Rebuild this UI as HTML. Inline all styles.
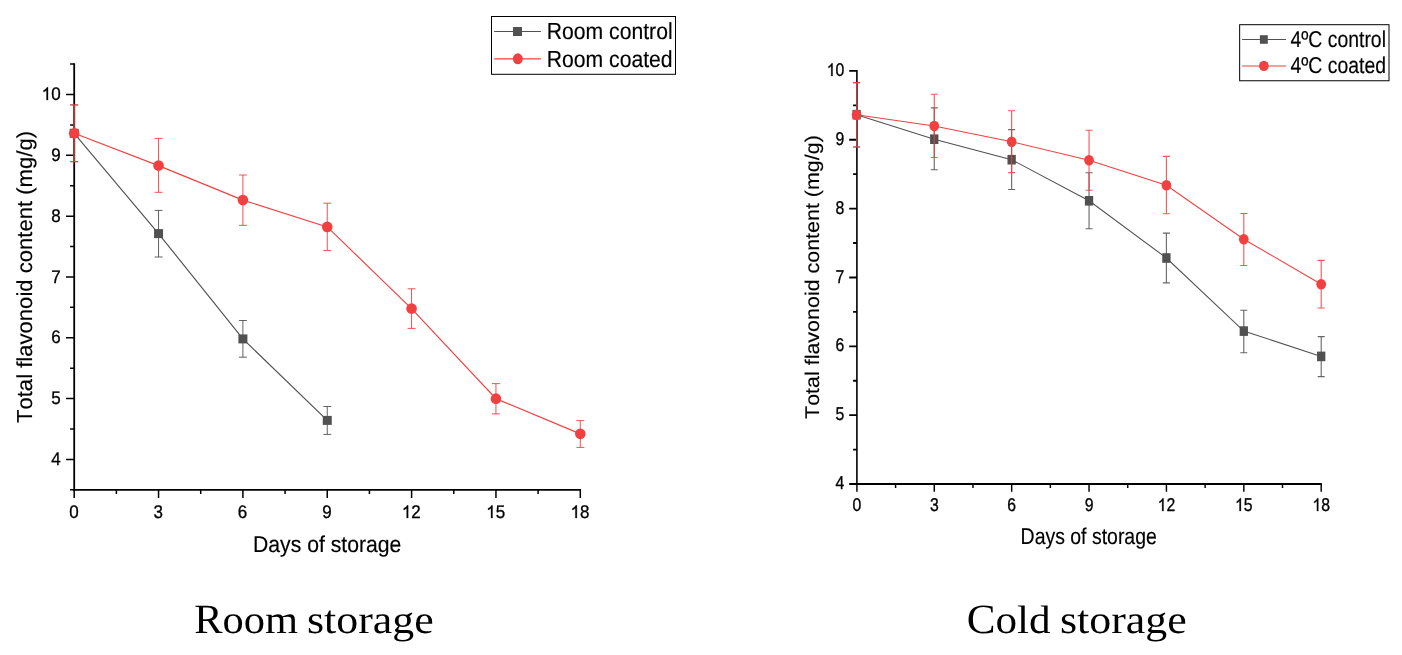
<!DOCTYPE html>
<html><head><meta charset="utf-8"><title>Total flavonoid content</title>
<style>html,body{margin:0;padding:0;background:#fff}svg{display:block;font-family:"Liberation Sans",sans-serif;will-change:transform;text-rendering:geometricPrecision;font-kerning:none}</style></head><body>
<svg width="1402" height="655" viewBox="0 0 1402 655">
<rect width="1402" height="655" fill="#fff"/>
<path d="M74.2 63.25V490.73" stroke="#000" stroke-width="1.8" fill="none"/>
<path d="M73.3 489.8H581.05" stroke="#000" stroke-width="1.85" fill="none"/>
<path d="M74.2 489.83H70.1M74.2 459.42H66M74.2 429.01H70.1M74.2 398.6H66M74.2 368.19H70.1M74.2 337.78H66M74.2 307.37H70.1M74.2 276.96H66M74.2 246.55H70.1M74.2 216.14H66M74.2 185.73H70.1M74.2 155.32H66M74.2 124.91H70.1M74.2 94.5H66M74.2 64.09H70.1" stroke="#000" stroke-width="1.5" fill="none"/>
<path d="M74.2 489.8V498M116.38 489.8V493.9M158.55 489.8V498M200.72 489.8V493.9M242.9 489.8V498M285.07 489.8V493.9M327.25 489.8V498M369.42 489.8V493.9M411.6 489.8V498M453.77 489.8V493.9M495.95 489.8V498M538.12 489.8V493.9M580.3 489.8V498" stroke="#000" stroke-width="1.5" fill="none"/>
<path d="M74.2 133.3 L158.55 233.6 L242.9 338.9 L327.25 420.4" fill="none" stroke="#515151" stroke-width="1.15"/>
<path d="M70.25 104.9H78.15M70.25 161.7H78.15M158.55 210.4V257M154.6 210.4H162.5M154.6 257H162.5M242.9 320.5V357.2M238.95 320.5H246.85M238.95 357.2H246.85M327.25 406.5V434.4M323.3 406.5H331.2M323.3 434.4H331.2" fill="none" stroke="#515151" stroke-width="1.0" opacity="0.9"/>
<rect x="69.7" y="128.8" width="9" height="9" fill="#515151"/>
<rect x="154.05" y="229.1" width="9" height="9" fill="#515151"/>
<rect x="238.4" y="334.4" width="9" height="9" fill="#515151"/>
<rect x="322.75" y="415.9" width="9" height="9" fill="#515151"/>
<path d="M74.2 133.3 L158.55 165.6 L242.9 200.1 L327.25 226.9 L411.55 308.6 L495.95 398.65 L580.3 433.85" fill="none" stroke="#F14040" stroke-width="1.15"/>
<path d="M74.2 104.9V161.7" fill="none" stroke="#B0393B" stroke-width="1.85"/>
<path d="M70.25 104.9H78.15M70.25 161.7H78.15M158.55 138.4V192.3M154.6 138.4H162.5M154.6 192.3H162.5M242.9 175V225.35M238.95 175H246.85M238.95 225.35H246.85M327.25 203.2V250.6M323.3 203.2H331.2M323.3 250.6H331.2M411.55 288.8V328.4M407.6 288.8H415.5M407.6 328.4H415.5M495.95 383.6V413.9M492 383.6H499.9M492 413.9H499.9M580.3 420.65V447.4M576.35 420.65H584.25M576.35 447.4H584.25" fill="none" stroke="#F14040" stroke-width="1.0" opacity="0.9"/>
<ellipse cx="74.2" cy="133.3" rx="5.3" ry="5.3" fill="#F14040"/>
<ellipse cx="158.55" cy="165.6" rx="5.3" ry="5.3" fill="#F14040"/>
<ellipse cx="242.9" cy="200.1" rx="5.3" ry="5.3" fill="#F14040"/>
<ellipse cx="327.25" cy="226.9" rx="5.3" ry="5.3" fill="#F14040"/>
<ellipse cx="411.55" cy="308.6" rx="5.3" ry="5.3" fill="#F14040"/>
<ellipse cx="495.95" cy="398.65" rx="5.3" ry="5.3" fill="#F14040"/>
<ellipse cx="580.3" cy="433.85" rx="5.3" ry="5.3" fill="#F14040"/>
<text transform="translate(60.6 465.07) scale(1.0000 1.0800)" font-size="17" text-anchor="end" stroke="#000" stroke-width="0.3" fill="#000">4</text>
<text transform="translate(60.6 404.25) scale(1.0000 1.0800)" font-size="17" text-anchor="end" stroke="#000" stroke-width="0.3" fill="#000">5</text>
<text transform="translate(60.6 343.43) scale(1.0000 1.0800)" font-size="17" text-anchor="end" stroke="#000" stroke-width="0.3" fill="#000">6</text>
<text transform="translate(60.6 282.61) scale(1.0000 1.0800)" font-size="17" text-anchor="end" stroke="#000" stroke-width="0.3" fill="#000">7</text>
<text transform="translate(60.6 221.79) scale(1.0000 1.0800)" font-size="17" text-anchor="end" stroke="#000" stroke-width="0.3" fill="#000">8</text>
<text transform="translate(60.6 160.97) scale(1.0000 1.0800)" font-size="17" text-anchor="end" stroke="#000" stroke-width="0.3" fill="#000">9</text>
<path transform="translate(41.69 100) scale(0.00830 -0.00858)" d="M763 0H583V1147Q518 1085 412.5 1023Q307 961 223 930V1104Q374 1175 487 1276Q600 1377 647 1472H763Z" fill="#000" stroke="#000" stroke-width="0.3" vector-effect="non-scaling-stroke"/>
<text transform="translate(51.14 100.15) scale(1.0000 1.0800)" font-size="17" text-anchor="start" stroke="#000" stroke-width="0.3" fill="#000">0</text>
<text transform="translate(73.9 518) scale(1.0000 1.0800)" font-size="17" text-anchor="middle" stroke="#000" stroke-width="0.3" fill="#000">0</text>
<text transform="translate(158.25 518) scale(1.0000 1.0800)" font-size="17" text-anchor="middle" stroke="#000" stroke-width="0.3" fill="#000">3</text>
<text transform="translate(242.6 518) scale(1.0000 1.0800)" font-size="17" text-anchor="middle" stroke="#000" stroke-width="0.3" fill="#000">6</text>
<text transform="translate(326.95 518) scale(1.0000 1.0800)" font-size="17" text-anchor="middle" stroke="#000" stroke-width="0.3" fill="#000">9</text>
<path transform="translate(401.84 518) scale(0.00830 -0.00858)" d="M763 0H583V1147Q518 1085 412.5 1023Q307 961 223 930V1104Q374 1175 487 1276Q600 1377 647 1472H763Z" fill="#000" stroke="#000" stroke-width="0.3" vector-effect="non-scaling-stroke"/>
<text transform="translate(411.3 518) scale(1.0000 1.0800)" font-size="17" text-anchor="start" stroke="#000" stroke-width="0.3" fill="#000">2</text>
<path transform="translate(486.19 518) scale(0.00830 -0.00858)" d="M763 0H583V1147Q518 1085 412.5 1023Q307 961 223 930V1104Q374 1175 487 1276Q600 1377 647 1472H763Z" fill="#000" stroke="#000" stroke-width="0.3" vector-effect="non-scaling-stroke"/>
<text transform="translate(495.65 518) scale(1.0000 1.0800)" font-size="17" text-anchor="start" stroke="#000" stroke-width="0.3" fill="#000">5</text>
<path transform="translate(570.54 518) scale(0.00830 -0.00858)" d="M763 0H583V1147Q518 1085 412.5 1023Q307 961 223 930V1104Q374 1175 487 1276Q600 1377 647 1472H763Z" fill="#000" stroke="#000" stroke-width="0.3" vector-effect="non-scaling-stroke"/>
<text transform="translate(580 518) scale(1.0000 1.0800)" font-size="17" text-anchor="start" stroke="#000" stroke-width="0.3" fill="#000">8</text>
<text transform="translate(327.2 552) scale(1.0000 1.0800)" font-size="21.18" text-anchor="middle" stroke="#000" stroke-width="0.15" fill="#000">Days of storage</text>
<text transform="translate(32.4 277) rotate(-90) scale(1.0000 0.9800)" font-size="22.09" text-anchor="middle" stroke="#000" stroke-width="0.15" fill="#000">Total flavonoid content (mg/g)</text>
<rect x="491.5" y="16.5" width="184" height="57.8" fill="#fff" stroke="#000" stroke-width="1.0"/>
<path d="M494.2 31.5H540.9" stroke="#515151" stroke-width="1.15"/>
<rect x="513" y="27" width="9" height="9" fill="#515151"/>
<text transform="translate(546.8 39) scale(1.0000 1.0980)" font-size="21.17" text-anchor="start" stroke="#000" stroke-width="0.15" fill="#000">Room control</text>
<path d="M494.2 58.85H540.9" stroke="#F14040" stroke-width="1.15"/>
<ellipse cx="517.85" cy="58.85" rx="4.95" ry="5.5" fill="#F14040"/>
<text transform="translate(546.8 67) scale(1.0000 1.0980)" font-size="21.17" text-anchor="start" stroke="#000" stroke-width="0.15" fill="#000">Room coated</text>
<path d="M856.9 69.98V484.95" stroke="#000" stroke-width="1.6" fill="none"/>
<path d="M856.1 484H1321.92" stroke="#000" stroke-width="1.9" fill="none"/>
<path d="M856.9 484H849.2M856.9 449.57H853.1M856.9 415.15H849.2M856.9 380.73H853.1M856.9 346.3H849.2M856.9 311.88H853.1M856.9 277.45H849.2M856.9 243.03H853.1M856.9 208.6H849.2M856.9 174.18H853.1M856.9 139.75H849.2M856.9 105.33H853.1M856.9 70.9H849.2" stroke="#000" stroke-width="1.85" fill="none"/>
<path d="M856.9 484V491.8M895.59 484V488M934.28 484V491.8M972.98 484V488M1011.67 484V491.8M1050.36 484V488M1089.05 484V491.8M1127.74 484V488M1166.43 484V491.8M1205.12 484V488M1243.82 484V491.8M1282.51 484V488M1321.2 484V491.8" stroke="#000" stroke-width="1.45" fill="none"/>
<path d="M856.6 114.7 L934.25 139.2 L1011.65 159.7 L1089.05 200.8 L1166.4 258 L1243.8 331.1 L1321.2 356.4" fill="none" stroke="#515151" stroke-width="1.05"/>
<path d="M853.1 82.6H860.1M853.1 147H860.1M934.25 107.9V169.7M930.75 107.9H937.75M930.75 169.7H937.75M1011.65 129.6V189.5M1008.15 129.6H1015.15M1008.15 189.5H1015.15M1089.05 172.7V228.7M1085.55 172.7H1092.55M1085.55 228.7H1092.55M1166.4 233.1V282.9M1162.9 233.1H1169.9M1162.9 282.9H1169.9M1243.8 310.2V352.7M1240.3 310.2H1247.3M1240.3 352.7H1247.3M1321.2 336.6V376.6M1317.7 336.6H1324.7M1317.7 376.6H1324.7" fill="none" stroke="#515151" stroke-width="1.1" opacity="0.88"/>
<rect x="852.45" y="109.9" width="8.3" height="9.6" fill="#515151"/>
<rect x="930.1" y="134.4" width="8.3" height="9.6" fill="#515151"/>
<rect x="1007.5" y="154.9" width="8.3" height="9.6" fill="#515151"/>
<rect x="1084.9" y="196" width="8.3" height="9.6" fill="#515151"/>
<rect x="1162.25" y="253.2" width="8.3" height="9.6" fill="#515151"/>
<rect x="1239.65" y="326.3" width="8.3" height="9.6" fill="#515151"/>
<rect x="1317.05" y="351.6" width="8.3" height="9.6" fill="#515151"/>
<path d="M856.6 114.7 L934.25 126 L1011.65 141.8 L1089.05 160.2 L1166.4 185.2 L1243.8 239.2 L1321.2 284.2" fill="none" stroke="#F14040" stroke-width="1.05"/>
<path d="M856.7 82.6V147" fill="none" stroke="#BC3A3C" stroke-width="1.35"/>
<path d="M853.1 82.6H860.1M853.1 147H860.1M934.25 94.2V157.5M930.75 94.2H937.75M930.75 157.5H937.75M1011.65 110.8V172.6M1008.15 110.8H1015.15M1008.15 172.6H1015.15M1089.05 130.3V190.2M1085.55 130.3H1092.55M1085.55 190.2H1092.55M1166.4 156.4V213.7M1162.9 156.4H1169.9M1162.9 213.7H1169.9M1243.8 213.5V265.5M1240.3 213.5H1247.3M1240.3 265.5H1247.3M1321.2 260.4V308M1317.7 260.4H1324.7M1317.7 308H1324.7" fill="none" stroke="#F14040" stroke-width="1.1" opacity="0.88"/>
<ellipse cx="856.6" cy="114.7" rx="4.85" ry="5.2" fill="#F14040"/>
<ellipse cx="934.25" cy="126" rx="4.85" ry="5.2" fill="#F14040"/>
<ellipse cx="1011.65" cy="141.8" rx="4.85" ry="5.2" fill="#F14040"/>
<ellipse cx="1089.05" cy="160.2" rx="4.85" ry="5.2" fill="#F14040"/>
<ellipse cx="1166.4" cy="185.2" rx="4.85" ry="5.2" fill="#F14040"/>
<ellipse cx="1243.8" cy="239.2" rx="4.85" ry="5.2" fill="#F14040"/>
<ellipse cx="1321.2" cy="284.2" rx="4.85" ry="5.2" fill="#F14040"/>
<text transform="translate(844.3 489.1) scale(0.9300 1.0900)" font-size="17" text-anchor="end" stroke="#000" stroke-width="0.3" fill="#000">4</text>
<text transform="translate(844.3 420.25) scale(0.9300 1.0900)" font-size="17" text-anchor="end" stroke="#000" stroke-width="0.3" fill="#000">5</text>
<text transform="translate(844.3 351.4) scale(0.9300 1.0900)" font-size="17" text-anchor="end" stroke="#000" stroke-width="0.3" fill="#000">6</text>
<text transform="translate(844.3 282.55) scale(0.9300 1.0900)" font-size="17" text-anchor="end" stroke="#000" stroke-width="0.3" fill="#000">7</text>
<text transform="translate(844.3 213.7) scale(0.9300 1.0900)" font-size="17" text-anchor="end" stroke="#000" stroke-width="0.3" fill="#000">8</text>
<text transform="translate(844.3 144.85) scale(0.9300 1.0900)" font-size="17" text-anchor="end" stroke="#000" stroke-width="0.3" fill="#000">9</text>
<path transform="translate(826.71 76) scale(0.00772 -0.00866)" d="M763 0H583V1147Q518 1085 412.5 1023Q307 961 223 930V1104Q374 1175 487 1276Q600 1377 647 1472H763Z" fill="#000" stroke="#000" stroke-width="0.3" vector-effect="non-scaling-stroke"/>
<text transform="translate(835.51 76) scale(0.9300 1.0900)" font-size="17" text-anchor="start" stroke="#000" stroke-width="0.3" fill="#000">0</text>
<text transform="translate(856.9 511) scale(0.9300 1.0900)" font-size="17" text-anchor="middle" stroke="#000" stroke-width="0.3" fill="#000">0</text>
<text transform="translate(934.28 511) scale(0.9300 1.0900)" font-size="17" text-anchor="middle" stroke="#000" stroke-width="0.3" fill="#000">3</text>
<text transform="translate(1011.67 511) scale(0.9300 1.0900)" font-size="17" text-anchor="middle" stroke="#000" stroke-width="0.3" fill="#000">6</text>
<text transform="translate(1089.05 511) scale(0.9300 1.0900)" font-size="17" text-anchor="middle" stroke="#000" stroke-width="0.3" fill="#000">9</text>
<path transform="translate(1157.64 511) scale(0.00772 -0.00866)" d="M763 0H583V1147Q518 1085 412.5 1023Q307 961 223 930V1104Q374 1175 487 1276Q600 1377 647 1472H763Z" fill="#000" stroke="#000" stroke-width="0.3" vector-effect="non-scaling-stroke"/>
<text transform="translate(1166.43 511) scale(0.9300 1.0900)" font-size="17" text-anchor="start" stroke="#000" stroke-width="0.3" fill="#000">2</text>
<path transform="translate(1235.02 511) scale(0.00772 -0.00866)" d="M763 0H583V1147Q518 1085 412.5 1023Q307 961 223 930V1104Q374 1175 487 1276Q600 1377 647 1472H763Z" fill="#000" stroke="#000" stroke-width="0.3" vector-effect="non-scaling-stroke"/>
<text transform="translate(1243.82 511) scale(0.9300 1.0900)" font-size="17" text-anchor="start" stroke="#000" stroke-width="0.3" fill="#000">5</text>
<path transform="translate(1312.41 511) scale(0.00772 -0.00866)" d="M763 0H583V1147Q518 1085 412.5 1023Q307 961 223 930V1104Q374 1175 487 1276Q600 1377 647 1472H763Z" fill="#000" stroke="#000" stroke-width="0.3" vector-effect="non-scaling-stroke"/>
<text transform="translate(1321.2 511) scale(0.9300 1.0900)" font-size="17" text-anchor="start" stroke="#000" stroke-width="0.3" fill="#000">8</text>
<text transform="translate(1088.7 544.2) scale(0.9120 1.0700)" font-size="21.33" text-anchor="middle" stroke="#000" stroke-width="0.15" fill="#000">Days of storage</text>
<text transform="translate(818.8 277.05) rotate(-90) scale(1.0057 0.9300)" font-size="21.33" text-anchor="middle" stroke="#000" stroke-width="0.15" fill="#000">Total flavonoid content (mg/g)</text>
<rect x="1239.65" y="24.7" width="149.35" height="56.05" fill="#fff" stroke="#000" stroke-width="1.0"/>
<path d="M1242.1 39.5H1286" stroke="#515151" stroke-width="1.05"/>
<rect x="1259.9" y="35.2" width="7.9" height="8.6" fill="#515151"/>
<text transform="translate(1290.4 47.1) scale(0.9100 1.0750)" font-size="21.33" text-anchor="start" stroke="#000" stroke-width="0.15" fill="#000">4ºC control</text>
<path d="M1242.1 65.9H1286" stroke="#F14040" stroke-width="1.05"/>
<ellipse cx="1263.85" cy="65.9" rx="4.85" ry="5.2" fill="#F14040"/>
<text transform="translate(1290.4 72.9) scale(0.9100 1.0750)" font-size="21.33" text-anchor="start" stroke="#000" stroke-width="0.15" fill="#000">4ºC coated</text>
<text transform="translate(194.13 633) scale(1.0182 1.0000)" font-size="41.7" text-anchor="start" font-family="Liberation Serif" fill="#000">R</text>
<text transform="translate(222.45 633) scale(1.0182 0.9550)" font-size="41.7" text-anchor="start" font-family="Liberation Serif" fill="#000">oom</text>
<text transform="translate(307.05 633) scale(1.0514 0.9550)" font-size="41.7" text-anchor="start" font-family="Liberation Serif" fill="#000">storage</text>
<text transform="translate(966.67 633) scale(1.0354 1.0000)" font-size="41.7" text-anchor="start" font-family="Liberation Serif" fill="#000">C</text>
<text transform="translate(995.47 633) scale(1.0354 0.9550)" font-size="41.7" text-anchor="start" font-family="Liberation Serif" fill="#000">old</text>
<text transform="translate(1059.94 633) scale(1.0523 0.9550)" font-size="41.7" text-anchor="start" font-family="Liberation Serif" fill="#000">storage</text>
</svg></body></html>
